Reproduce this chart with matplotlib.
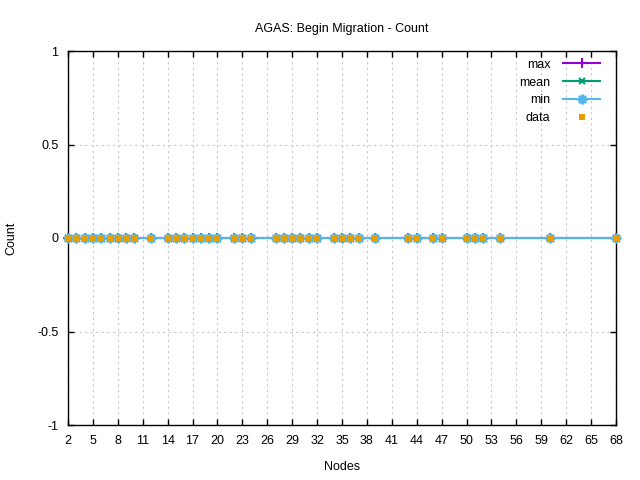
import matplotlib
matplotlib.use("Agg")
import matplotlib.pyplot as plt

plt.rcParams['font.family'] = ['Liberation Sans', 'DejaVu Sans']

nodes = [2, 3, 4, 5, 6, 7, 8, 9, 10, 12, 14, 15, 16, 17, 18, 19, 20, 22, 23, 24,
         27, 28, 29, 30, 31, 32, 34, 35, 36, 37, 39, 43, 44, 46, 47, 50, 51, 52,
         54, 60, 68]
max_vals = [0] * len(nodes)
mean_vals = [0] * len(nodes)
min_vals = [0] * len(nodes)
data_vals = [0] * len(nodes)

xticks = list(range(2, 69, 3))
yticks = [-1, -0.5, 0, 0.5, 1]
ytick_labels = ["-1", "-0.5", "0", "0.5", "1"]

fig = plt.figure(figsize=(6.4, 4.8), dpi=100)
ax = fig.add_axes([68/640, 1-425/480, (616-68)/640, (425-51)/480])

ax.plot(nodes, max_vals, color='#9400D3', lw=1.5, marker='+', ms=7, mew=1.5,
        label='max', clip_on=False, zorder=3)
ax.plot(nodes, mean_vals, color='#009E73', lw=1.5, marker='x', ms=5, mew=1.5,
        label='mean', clip_on=False, zorder=3)
ax.plot(nodes, min_vals, color='#56B4E9', lw=1.5, marker=(8, 2, 0), ms=7, mew=1.5,
        label='min', clip_on=False, zorder=3)
ax.plot(nodes, data_vals, color='#E69F00', lw=0, marker='s', ms=4, mew=0,
        label='data', clip_on=False, zorder=4)

ax.set_xlim(2, 68)
ax.set_ylim(-1, 1)
ax.set_xticks(xticks)
ax.set_yticks(yticks)
ax.set_yticklabels(ytick_labels)
ax.tick_params(direction='in', length=4, width=1, top=True, right=True,
               labelsize=9, pad=7, colors='black')
ax.grid(True, color='#c8c8c8', linestyle=(0, (2, 3)), linewidth=0.8)
for s in ax.spines.values():
    s.set_linewidth(1)
    s.set_color('black')

ax.set_title('AGAS: Begin Migration - Count', fontsize=9, pad=14)
ax.set_xlabel('Nodes', fontsize=9, labelpad=10)
ax.set_ylabel('Count', fontsize=9, labelpad=14)

leg = ax.legend(loc='upper right', frameon=False, markerfirst=False, fontsize=9,
                handlelength=3.0, labelspacing=0.46, borderaxespad=0.3,
                handletextpad=1.0, bbox_to_anchor=(1 - 7/548, 1 + 1/374))

fig.savefig('out.png', dpi=100)
